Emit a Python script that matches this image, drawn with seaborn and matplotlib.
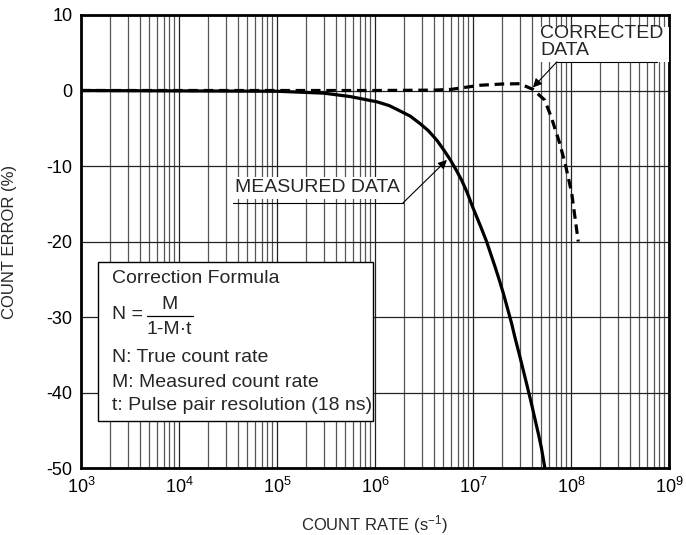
import numpy as np
import pandas as pd
import matplotlib
matplotlib.use("Agg")
import matplotlib.pyplot as plt
import seaborn as sns
from matplotlib.ticker import LogLocator, FixedLocator

# values
measured_rate = [1e3, 1e5, 3e5, 5.6e5, 1.05e6, 1.4e6, 1.8e6, 2.3e6, 2.9e6, 3.5e6,
                 4.3e6, 5.0e6, 5.9e6, 6.8e6, 7.7e6, 8.8e6, 1.0e7, 1.2e7, 1.38e7,
                 1.5e7, 1.67e7, 1.85e7, 2.04e7, 2.25e7, 2.48e7, 2.7e7, 3.0e7,
                 3.5e7, 4.0e7, 4.3e7, 4.65e7, 5.0e7, 5.43e7]
measured_err = [0, -0.1, -0.35, -0.8, -1.5, -2.0, -2.7, -3.4, -4.4, -5.3,
                -6.6, -7.8, -9.2, -10.6, -11.9, -13.6, -15.5, -18.0, -20.0,
                -21.4, -23.2, -25.0, -26.8, -28.8, -30.8, -32.8, -35.1,
                -38.6, -41.7, -43.5, -45.4, -47.3, -50.0]

corrected_rate = [1e3, 1e6, 4e6, 6e6, 9.3e6, 1.2e7, 2e7, 3e7, 4.1e7, 5.4e7,
                  6.3e7, 7.7e7, 8.9e7, 1.02e8, 1.19e8]
corrected_err = [0, 0, 0.05, 0.15, 0.5, 0.7, 0.86, 0.9, 0.15, -1.26,
                 -3.5, -7.0, -10.1, -13.6, -20.0]

y_ticks = [10, 0, -10, -20, -30, -40, -50]
x_decades = [1e3, 1e4, 1e5, 1e6, 1e7, 1e8, 1e9]

df_meas = pd.DataFrame({"rate": measured_rate, "err": measured_err})
df_corr = pd.DataFrame({"rate": corrected_rate, "err": corrected_err})

sns.set_style("white")
plt.rcParams["font.family"] = ["Liberation Sans", "DejaVu Sans"]
plt.rcParams["mathtext.fontset"] = "custom"
plt.rcParams["mathtext.rm"] = "Liberation Sans"
plt.rcParams["mathtext.it"] = "Liberation Sans"
plt.rcParams["mathtext.default"] = "regular"
plt.rcParams["axes.unicode_minus"] = False

fig = plt.figure(figsize=(6.86, 5.35), dpi=100)
ax = fig.add_axes([0.118, 0.125, 0.857, 0.847])
ax.set_xscale("log")
ax.set_xlim(1e3, 1e9)
ax.set_ylim(-50, 10)

# grid
ax.xaxis.set_major_locator(FixedLocator(x_decades))
ax.xaxis.set_minor_locator(LogLocator(base=10, subs=np.arange(2, 10), numticks=20))
ax.set_yticks(y_ticks)
ax.grid(which="major", color="#222222", linewidth=0.9)
ax.grid(which="minor", axis="x", color="#555555", linewidth=0.9)
ax.tick_params(which="both", length=0, labelsize=13, colors="black", pad=6)
ax.set_xticklabels([r"$10^{%d}$" % int(np.log10(v)) for v in x_decades])

sns.lineplot(data=df_meas, x="rate", y="err", ax=ax, color="black", linewidth=2.3,
             zorder=5)
sns.lineplot(data=df_corr, x="rate", y="err", ax=ax, color="black", linewidth=2.3,
             zorder=4)
ax.lines[-1].set_dashes((3, 1.8))

for s in ax.spines.values():
    s.set_linewidth(2)
    s.set_color("black")

ax.set_xlabel(r"COUNT RATE (s$^{-1}$)", fontsize=12)
ax.set_ylabel("COUNT ERROR (%)", fontsize=12)
ax.xaxis.set_label_coords(0.5, -0.1)
ax.yaxis.set_label_coords(-0.108, 0.5)

# MEASURED DATA label
ax.text(3.7e4, -12.9, "MEASURED DATA", fontsize=14, ha="left", va="center",
        bbox=dict(facecolor="white", edgecolor="none", pad=1.5), zorder=6)
ax.plot([3.56e4, 1.93e6], [-14.9, -14.9], color="black", linewidth=0.8, zorder=7)
ax.annotate("", xy=(5.43e6, -9.2), xytext=(1.93e6, -14.9),
            arrowprops=dict(arrowstyle="-|>", color="black", lw=0.8,
                            mutation_scale=13, shrinkA=0, shrinkB=0), zorder=7)

# CORRECTED DATA label
ax.add_patch(plt.Rectangle((4.6e7, 3.8), 1e9 - 4.6e7, 4.6, facecolor="white",
                           edgecolor="none", zorder=6))
ax.text(4.83e7, 6.4, "CORRECTED\nDATA", fontsize=14, ha="left", va="center",
        linespacing=0.95, zorder=7)
ax.plot([7.2e7, 7.55e8], [3.8, 3.8], color="black", linewidth=0.8, zorder=7)
ax.annotate("", xy=(4.1e7, 0.4), xytext=(7.2e7, 3.8),
            arrowprops=dict(arrowstyle="-|>", color="black", lw=0.8,
                            mutation_scale=13, shrinkA=0, shrinkB=0), zorder=7)

# formula box
box = plt.Rectangle((0.029, 0.104), 0.468, 0.351, transform=ax.transAxes,
                    facecolor="white", edgecolor="black", linewidth=1, zorder=8)
ax.add_patch(box)
tx = 0.053
tr = ax.transAxes
ax.text(tx, 0.419, "Correction Formula", transform=tr, fontsize=14,
        va="center", zorder=9)
ax.text(tx, 0.338, "N =", transform=tr, fontsize=14, va="center", zorder=9)
ax.text(0.150, 0.362, "M", transform=tr, fontsize=14, ha="center", va="center",
        zorder=9)
ax.plot([0.112, 0.190], [0.3355, 0.3355], transform=tr, color="black",
        linewidth=0.9, zorder=9)
ax.text(0.151, 0.307, "1-M\u00b7t", transform=tr, fontsize=14, ha="center",
        va="center", zorder=9)
ax.text(tx, 0.245, "N: True count rate", transform=tr, fontsize=14,
        va="center", zorder=9)
ax.text(tx, 0.190, "M: Measured count rate", transform=tr, fontsize=14,
        va="center", zorder=9)
ax.text(tx, 0.139, "t: Pulse pair resolution (18 ns)", transform=tr,
        fontsize=14, va="center", zorder=9)

fig.savefig("out.png", dpi=100)
